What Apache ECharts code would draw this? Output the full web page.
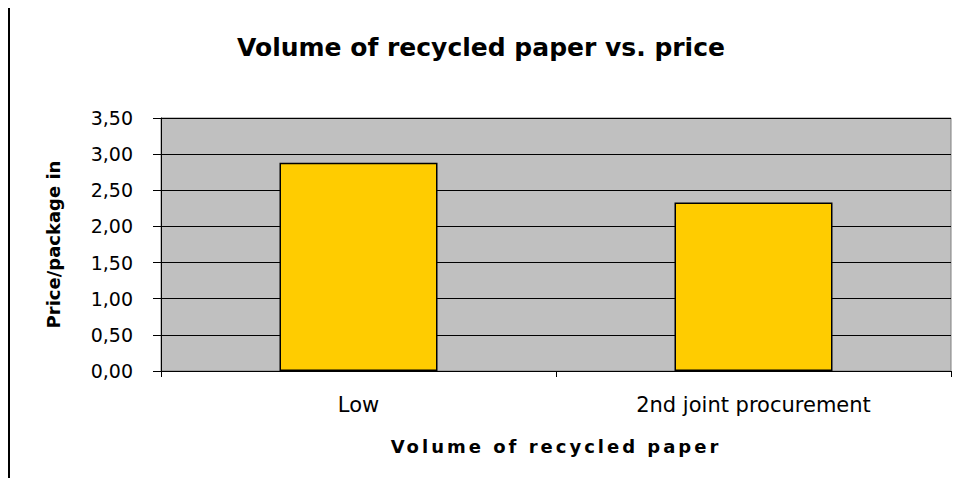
<!DOCTYPE html>
<html>
<head>
<meta charset="utf-8">
<script src="https://cdn.jsdelivr.net/npm/echarts@6/dist/echarts.min.js"></script>
<style>
html,body{margin:0;padding:0;background:#fff;}
#chart{width:957px;height:484px;}
</style>
</head>
<body>
<div id="chart"></div>
<script>
// categories and values
var categories = ['Low', '2nd joint procurement'];
var prices = [2.88, 2.33];
var yTicks = [0, 0.5, 1, 1.5, 2, 2.5, 3, 3.5];

var xName = 'Volume of recycled paper';
var chart = echarts.init(document.getElementById('chart'), null, { renderer: 'svg' });
var font = 'DejaVu Sans, Verdana, sans-serif';

var option = {
	animation: false,
	backgroundColor: '#fff',
	title: {
		text: 'Volume of recycled paper vs. price',
		left: 476,
		top: 30,
		textAlign: 'center',
		textStyle: { fontFamily: font, fontSize: 25, fontWeight: 'bold', color: '#000' }
	},
	graphic: [{
		type: 'line',
		shape: { x1: 9, y1: 8, x2: 9, y2: 478 },
		style: { stroke: '#000', lineWidth: 2 }
	}],
	grid: {
		left: 161, right: 6, top: 118, bottom: 113,
		show: true,
		backgroundColor: '#c0c0c0',
		borderColor: '#808080',
		borderWidth: 1
	},
	xAxis: {
		type: 'category',
		data: categories,
		name: xName,
		nameLocation: 'middle',
		nameGap: 66,
		nameTextStyle: { fontFamily: font, fontSize: 18, fontWeight: 'bold', color: '#000' },
		axisLine: { lineStyle: { color: '#000', width: 1 } },
		axisTick: { show: true, length: 6, lineStyle: { color: '#000' } },
		axisLabel: { fontFamily: font, fontSize: 21, color: '#000', margin: 23 }
	},
	yAxis: {
		type: 'value',
		min: yTicks[0],
		max: yTicks[yTicks.length - 1],
		interval: 0.5,
		name: 'Price/package in',
		nameLocation: 'middle',
		nameGap: 99,
		nameTextStyle: { fontFamily: font, fontSize: 18, fontWeight: 'bold', color: '#000' },
		axisLine: { show: true, lineStyle: { color: '#000' } },
		axisTick: { show: true, length: 8, lineStyle: { color: '#000' } },
		axisLabel: {
			fontFamily: font, fontSize: 19, color: '#000', margin: 28,
			formatter: function(v) { return v.toFixed(2).replace('.', ','); }
		},
		splitLine: { show: true, lineStyle: { color: '#000', width: 1 } }
	},
	series: [{
		type: 'bar',
		data: prices,
		barWidth: '40%',
		itemStyle: { color: '#ffcc00', borderColor: '#000', borderWidth: 1.5 }
	}]
};
chart.setOption(option);

// the axis title in the original is letter-spaced
function spaceAxisName() {
	var texts = document.querySelectorAll('#chart text');
	for (var i = 0; i < texts.length; i++) {
		if (texts[i].textContent == xName) {
			texts[i].style.letterSpacing = '3px';
		}
	}
}
spaceAxisName();
chart.on('finished', spaceAxisName);
</script>
</body>
</html>
